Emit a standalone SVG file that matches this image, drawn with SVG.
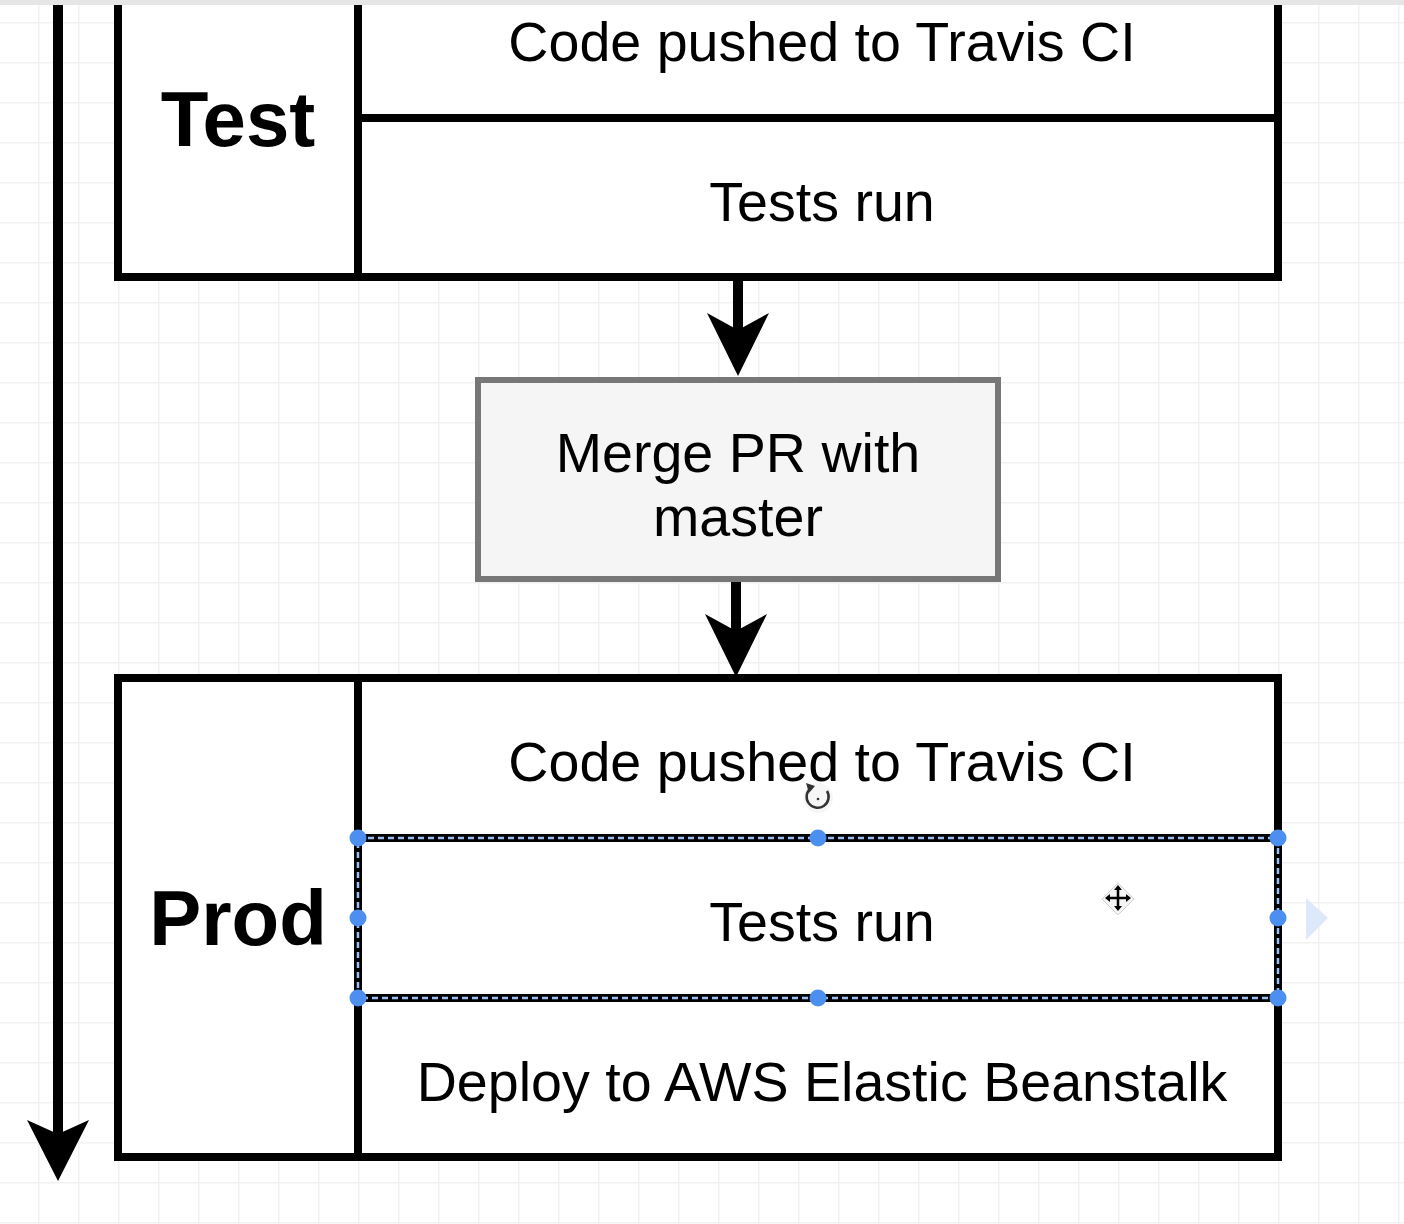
<svg xmlns="http://www.w3.org/2000/svg" width="1404" height="1224" viewBox="0 0 1404 1224">
<defs>
<pattern id="grid" x="-2" y="22" width="40" height="40" patternUnits="userSpaceOnUse">
<path d="M0.75 0 V40 M0 0.75 H40" fill="none" stroke="#f1f1f1" stroke-width="1.5"/>
</pattern>
</defs>
<style>
.box{fill:#ffffff;stroke:#000;stroke-width:8}
.div{stroke:#000;stroke-width:8;fill:none}
.sel{stroke:#000;stroke-width:8;fill:none}
.seldash{stroke:#9cc0f2;stroke-width:2.5;stroke-dasharray:6 4;fill:none}
.handle{fill:#4d8ff0}
.t{font-family:"Liberation Sans",Arial,Helvetica,sans-serif;font-size:55.6px;fill:#000;text-anchor:middle}
.b{font-family:"Liberation Sans",Arial,Helvetica,sans-serif;font-size:78px;font-weight:bold;fill:#000;text-anchor:middle}
.conn{stroke:#000;stroke-width:10;fill:none}
</style>
<rect width="1404" height="1224" fill="#ffffff"/>
<rect width="1404" height="1224" fill="url(#grid)"/>

<g id="connectors">
<line class="conn" x1="58" y1="0" x2="58" y2="1135" stroke-width="11"/>
<path d="M58 1181 L27 1120 L58 1134 L89 1120 Z" fill="#000"/>
<line class="conn" x1="738" y1="277" x2="738" y2="340"/>
<path d="M738 376 L707 313 L738 330 L769 313 Z" fill="#000"/>
<line class="conn" x1="736" y1="580" x2="736" y2="640"/>
<path d="M736 677 L705 614 L736 631 L767 614 Z" fill="#000"/>
</g>

<g id="test">
<rect class="box" x="118" y="-42" width="1160" height="319"/>
<line class="div" x1="358" y1="-42" x2="358" y2="277"/>
<line class="div" x1="358" y1="118" x2="1278" y2="118"/>
<text class="b" x="238" y="146">Test</text>
<text class="t" x="822" y="61">Code pushed to Travis CI</text>
<text class="t" x="822" y="221">Tests run</text>
</g>

<g id="merge">
<rect x="478" y="380" width="520" height="199" fill="#f5f5f5" stroke="#777777" stroke-width="6"/>
<text class="t" x="738" y="472">Merge PR with</text>
<text class="t" x="738" y="536">master</text>
</g>

<g id="prod">
<rect class="box" x="118" y="678" width="1160" height="479"/>
<line class="div" x1="358" y1="678" x2="358" y2="838"/>
<line class="div" x1="358" y1="998" x2="358" y2="1157"/>
<text class="b" x="238" y="945">Prod</text>
<text class="t" x="822" y="781">Code pushed to Travis CI</text>
<text class="t" x="822" y="941">Tests run</text>
<text class="t" x="822" y="1101">Deploy to AWS Elastic Beanstalk</text>
</g>

<g id="selection">
<rect class="sel" x="358" y="838" width="920" height="160"/>
<rect class="seldash" x="358" y="838" width="920" height="160"/>
<circle class="handle" cx="358" cy="838" r="8.5"/>
<circle class="handle" cx="818" cy="838" r="8.5"/>
<circle class="handle" cx="1278" cy="838" r="8.5"/>
<circle class="handle" cx="358" cy="918" r="8.5"/>
<circle class="handle" cx="1278" cy="918" r="8.5"/>
<circle class="handle" cx="358" cy="998" r="8.5"/>
<circle class="handle" cx="818" cy="998" r="8.5"/>
<circle class="handle" cx="1278" cy="998" r="8.5"/>
<path d="M1306 898 L1328 918 L1306 940 Z" fill="#dde8fa"/>
</g>

<g id="cursors">
<circle cx="818" cy="798" r="15" fill="#f2f2f2" opacity="0.7"/>
<path d="M827 791 A11 11 0 1 1 811 788" fill="none" stroke="#333" stroke-width="2.5"/>
<path d="M806 783 L815 786 L809 793 Z" fill="#333"/>
<circle cx="818" cy="799" r="1.3" fill="#333"/>
<path d="M1118 883 L1134 899 L1118 915 L1102 899 Z" fill="#f4f4f4" stroke="#d0d0d0" stroke-width="1"/>
<path d="M1118 887 V909 M1107 898 H1129" stroke="#000" stroke-width="2.5"/>
<path d="M1118 885 L1114 890 L1122 890 Z M1118 911 L1114 906 L1122 906 Z M1105 898 L1110 894 L1110 902 Z M1131 898 L1126 894 L1126 902 Z" fill="#000"/>
</g>

<rect x="0" y="0" width="1404" height="5" fill="#e6e6e6"/>
</svg>
